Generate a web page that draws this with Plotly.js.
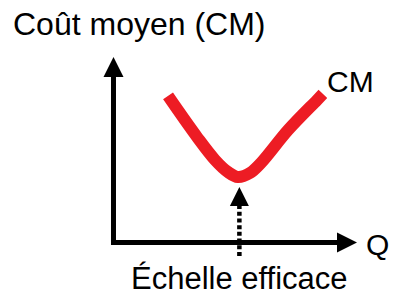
<!DOCTYPE html>
<html>
<head>
<meta charset="utf-8">
<script src="https://cdn.plot.ly/plotly-3.0.1.min.js"></script>
<style>html,body{margin:0;padding:0;background:#fff;}#chart{width:394px;height:292px;}</style>
</head>
<body>
<div id="chart"></div>
<script>
// ---- Data (conceptual units) ----
const axisQMax = 10;          // end of the Q axis (arrow tip)
const axisCMMax = 10;         // end of the CM axis (arrow tip)
const curveQ  = [2.24, 3.43, 4.17, 4.70, 5.11, 5.61, 6.06, 7.17, 8.36, 8.60];
const curveCM = [7.90, 5.69, 4.45, 3.80, 3.53, 3.75, 4.29, 6.06, 7.68, 8.01];
const efficientQ = 5.17;      // efficient scale (minimum of CM)
const pointerTop = 2.99;      // tip of the pointer arrow
const pointerBase = 2.02;     // start of dotted line
const pointerBottom = -0.73;  // end of dotted line
const labels = {
  yTitle: "Coût moyen (CM)",
  curve: "CM",
  xTitle: "Q",
  efficient: "Échelle efficace"
};

const W = 394, H = 292;
const FONT = "Liberation Sans, Arial, Helvetica, sans-serif";
const px = v => v / W;
const py = v => 1 - v / H;

const traces = [
  // axes (single polyline so the corner is mitred)
  {x: [0, 0, axisQMax - 0.5], y: [axisCMMax - 0.5, 0, 0], mode: 'lines',
   line: {color: '#000', width: 5}, hoverinfo: 'skip', cliponaxis: false},
  // axis arrowheads
  {x: [0], y: [axisCMMax], mode: 'markers',
   marker: {symbol: 'arrow-up', size: 20, color: '#000', line: {width: 0}},
   hoverinfo: 'skip', cliponaxis: false},
  {x: [axisQMax], y: [0], mode: 'markers',
   marker: {symbol: 'arrow-right', size: 20, color: '#000', line: {width: 0}},
   hoverinfo: 'skip', cliponaxis: false},
  // dotted pointer
  {x: [efficientQ, efficientQ], y: [pointerBase, pointerBottom], mode: 'lines',
   line: {color: '#000', width: 4.5, dash: '4px,2.7px'}, hoverinfo: 'skip', cliponaxis: false},
  {x: [efficientQ], y: [pointerTop], mode: 'markers',
   marker: {symbol: 'arrow-up', size: 19, color: '#000', line: {width: 0}},
   hoverinfo: 'skip', cliponaxis: false},
  // CM curve
  {x: curveQ, y: curveCM, mode: 'lines',
   line: {color: '#ED1C24', width: 12, shape: 'spline', smoothing: 1},
   hoverinfo: 'skip', cliponaxis: false}
];

const layout = {
  width: W, height: H,
  margin: {l: 0, r: 0, t: 0, b: 0, pad: 0},
  paper_bgcolor: '#fff', plot_bgcolor: '#fff',
  showlegend: false,
  xaxis: {range: [-4.661, 11.520], visible: false, fixedrange: true},
  yaxis: {range: [-2.668, 13.073], visible: false, fixedrange: true},
  font: {family: FONT, color: '#000', size: 30},
  annotations: [
    {text: labels.yTitle, xref: 'paper', yref: 'paper', x: px(11), y: py(24),
     xanchor: 'left', yanchor: 'middle', showarrow: false, font: {size: 32}},
    {text: labels.curve, xref: 'paper', yref: 'paper', x: px(325), y: py(81),
     xanchor: 'left', yanchor: 'middle', showarrow: false, font: {size: 30}},
    {text: labels.xTitle, xref: 'paper', yref: 'paper', x: px(364), y: py(244),
     xanchor: 'left', yanchor: 'middle', showarrow: false, font: {size: 30}},
    {text: labels.efficient, xref: 'paper', yref: 'paper', x: px(239), y: py(278),
     xanchor: 'center', yanchor: 'middle', showarrow: false, font: {size: 31}}
  ]
};

Plotly.newPlot('chart', traces, layout, {staticPlot: true, displayModeBar: false});
</script>
</body>
</html>
